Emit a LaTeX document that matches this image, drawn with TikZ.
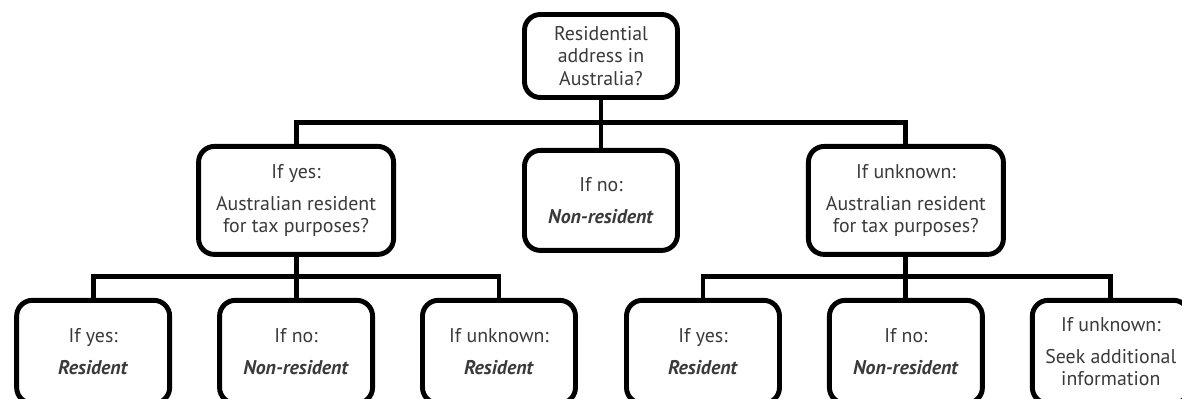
\documentclass[tikz,border=0pt]{standalone}
\usepackage{fontspec}
\setmainfont{PT Sans}
\usetikzlibrary{positioning}
\definecolor{tree-text}{HTML}{3A3A3A}

\begin{document}
\begin{tikzpicture}[
    node distance=0.82cm and 0.9cm,
    qbox/.style={draw, line width=2.8pt, rounded corners=9pt, fill=white, align=center, inner sep=2pt, text=tree-text, font=\fontsize{11.3}{12.7}\selectfont},
    rootbox/.style={qbox, minimum width=3.06cm, minimum height=1.66cm},
    midbox/.style={qbox, minimum width=3.9cm, minimum height=2.16cm},
    shortbox/.style={qbox, minimum width=3.06cm, minimum height=2.0cm},
    leafbox/.style={qbox, minimum width=3.06cm, minimum height=2.06cm},
    link/.style={line width=2.8pt}
]
    \useasboundingbox (-12.02,-6.86) rectangle (11.62,1.12);

    % --- Nodes Definitions ---
    % Question on the address
    \node (resaddr) [rootbox] {Residential\\address in\\Australia?};

    % Second level
    \node (addr_no) [shortbox, below=0.96cm of resaddr] {If no:\\[5.5pt]\textbf{\textit{Non-resident}}};
    \node (aus_yes) [midbox, left=2.52cm of addr_no] {If yes:\\[5.5pt]Australian resident\\for tax purposes?};
    \node (aus_unk) [midbox, right=2.52cm of addr_no] {If unknown:\\[5.5pt]Australian resident\\for tax purposes?};

    % Outcomes, known address
    \node (yes_no) [leafbox, below=of aus_yes] {If no:\\[5.5pt]\textbf{\textit{Non-resident}}};
    \node (yes_yes) [leafbox, left=of yes_no] {If yes:\\[5.5pt]\textbf{\textit{Resident}}};
    \node (yes_unk) [leafbox, right=of yes_no] {If unknown:\\[5.5pt]\textbf{\textit{Resident}}};

    % Outcomes, unknown address
    \node (unk_no) [leafbox, below=of aus_unk] {If no:\\[5.5pt]\textbf{\textit{Non-resident}}};
    \node (unk_yes) [leafbox, left=of unk_no] {If yes:\\[5.5pt]\textbf{\textit{Resident}}};
    \node (unk_unk) [leafbox, minimum width=3.14cm, right=of unk_no] {If unknown:\\[5.5pt]Seek additional\\information};

    % --- Connections ---
    \draw [link] (resaddr.south) -- (addr_no.north);
    \draw [link] (resaddr.south) -- ++(0,-0.46) -| (aus_yes.north);
    \draw [link] (resaddr.south) -- ++(0,-0.46) -| (aus_unk.north);

    \draw [link] (aus_yes.south) -- (yes_no.north);
    \draw [link] (aus_yes.south) -- ++(0,-0.4) -| (yes_yes.north);
    \draw [link] (aus_yes.south) -- ++(0,-0.4) -| (yes_unk.north);

    \draw [link] (aus_unk.south) -- (unk_no.north);
    \draw [link] (aus_unk.south) -- ++(0,-0.4) -| (unk_yes.north);
    \draw [link] (aus_unk.south) -- ++(0,-0.4) -| (unk_unk.north);

\end{tikzpicture}
\end{document}
